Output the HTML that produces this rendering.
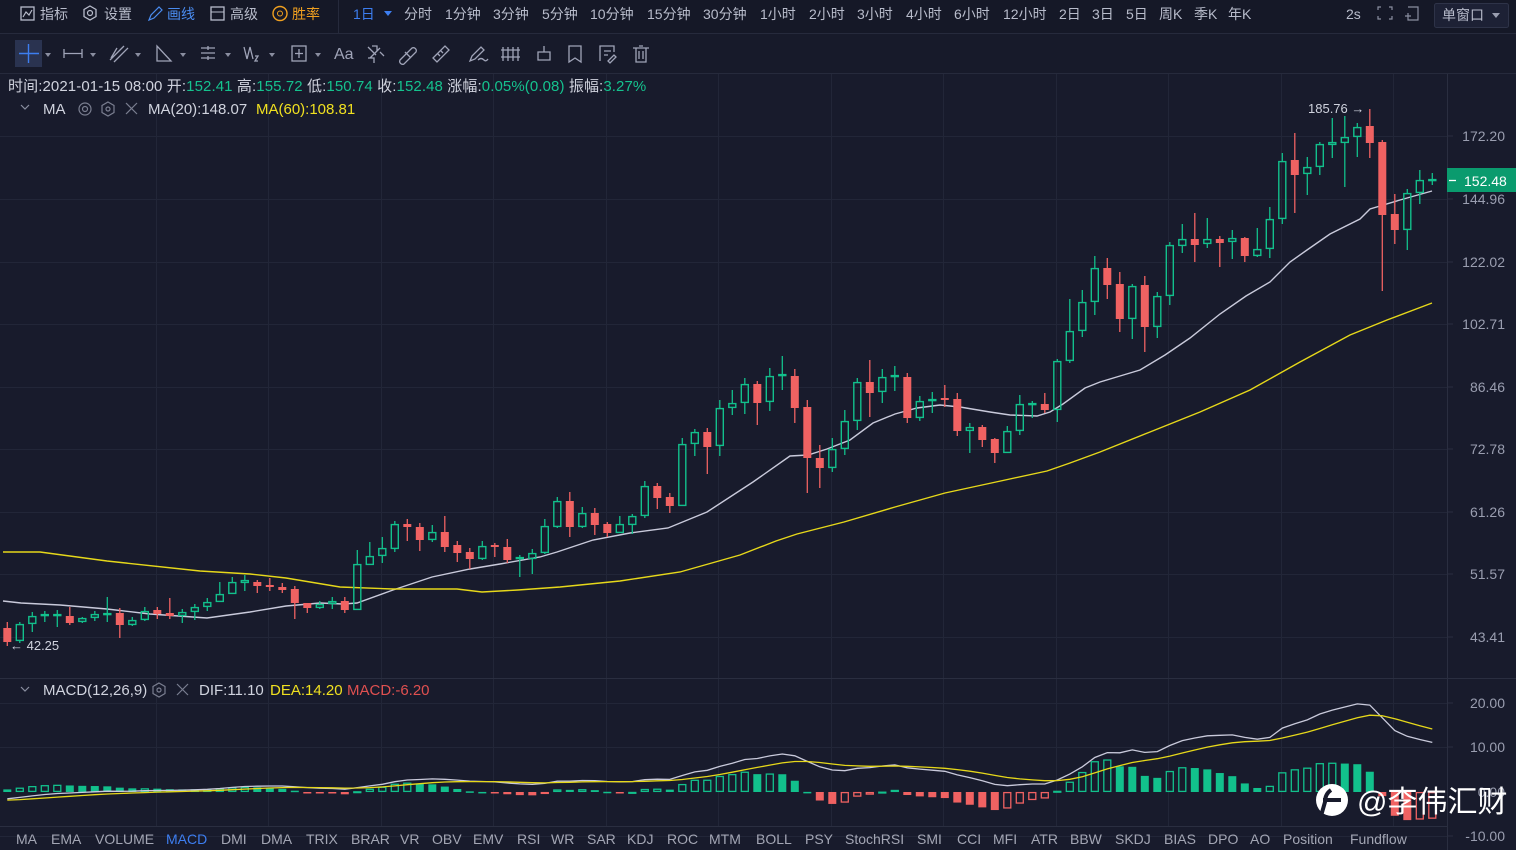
<!DOCTYPE html>
<html><head><meta charset="utf-8"><style>
html,body{margin:0;padding:0;background:#181b2c;width:1516px;height:850px;overflow:hidden}
svg{display:block;font-family:"Liberation Sans","Noto Sans CJK SC",sans-serif}
</style></head><body>
<svg id="s" width="1516" height="850" viewBox="0 0 1516 850" xmlns="http://www.w3.org/2000/svg">
<rect width="1516" height="850" fill="#181b2c"/>
<rect width="1516" height="33" fill="#151827"/>
<rect y="33" width="1516" height="40" fill="#171a2a"/>
<line x1="0" y1="33.5" x2="1516" y2="33.5" stroke="#262a3c"/>
<line x1="0" y1="73.5" x2="1516" y2="73.5" stroke="#262a3c"/>
<line x1="338.5" y1="0" x2="338.5" y2="33" stroke="#262a3c"/>
<g id="grid" stroke="#222638" stroke-width="1"></g>
<line x1="1447.5" y1="74" x2="1447.5" y2="850" stroke="#2a2e40"/>
<line x1="0" y1="678.5" x2="1516" y2="678.5" stroke="#2a2e40"/>
<line x1="0" y1="826.5" x2="1447" y2="826.5" stroke="#2a2e40"/>
<g id="ma"></g>
<g id="candles"></g>
<g id="macd"></g>
<!-- top bar -->
<g font-size="14" fill="#b8bccb">
<rect x="21" y="7" width="13" height="13" fill="none" stroke="#b8bccb" stroke-width="1.3"/><polyline points="23,17 26,12 29,15 32,10" fill="none" stroke="#b8bccb" stroke-width="1.2"/>
<text x="40" y="19">指标</text>
<polygon points="90,6 96,9.5 96,16.5 90,20 84,16.5 84,9.5" fill="none" stroke="#b8bccb" stroke-width="1.3"/><circle cx="90" cy="13" r="2.5" fill="none" stroke="#b8bccb" stroke-width="1.2"/>
<text x="104" y="19">设置</text>
<path d="M149 20 L151 15 L159 7 L162 10 L154 18 Z" fill="none" stroke="#4a8cf0" stroke-width="1.2"/>
<text x="167" y="19" fill="#4a8cf0">画线</text>
<rect x="211" y="7" width="13" height="13" fill="none" stroke="#b8bccb" stroke-width="1.3"/><line x1="211" y1="12" x2="224" y2="12" stroke="#b8bccb"/>
<text x="230" y="19">高级</text>
<circle cx="280" cy="13.5" r="7" fill="none" stroke="#f0a020" stroke-width="1.4"/><circle cx="280" cy="13.5" r="2.5" fill="none" stroke="#f0a020"/>
<text x="292" y="19" fill="#f0a020">胜率</text>
<text x="353" y="19" fill="#3d7ef0">1日</text><polygon points="384,11 392,11 388,16" fill="#3d7ef0"/>
<text x="404" y="19">分时</text><text x="445" y="19">1分钟</text><text x="493" y="19">3分钟</text><text x="542" y="19">5分钟</text>
<text x="590" y="19">10分钟</text><text x="647" y="19">15分钟</text><text x="703" y="19">30分钟</text>
<text x="760" y="19">1小时</text><text x="809" y="19">2小时</text><text x="857" y="19">3小时</text><text x="906" y="19">4小时</text>
<text x="954" y="19">6小时</text><text x="1003" y="19">12小时</text><text x="1059" y="19">2日</text><text x="1092" y="19">3日</text>
<text x="1126" y="19">5日</text><text x="1159" y="19">周K</text><text x="1194" y="19">季K</text><text x="1228" y="19">年K</text>
<text x="1346" y="19">2s</text>
<g stroke="#8a8ea0" stroke-width="1.2" fill="none"><path d="M1378 10 v-3 h3 M1389 7 h3 v3 M1378 16 v3 h3 M1389 19 h3 v-3"/><path d="M1408 7 h10 v13 h-10 v-3 M1405 16 h6 M1408 13 v6"/></g>
<rect x="1434.5" y="3.5" width="74" height="24" rx="2" fill="#1d2135" stroke="#2e3348"/>
<text x="1442" y="20">单窗口</text><polygon points="1492,13 1500,13 1496,18" fill="#9a9eb0"/>
</g>
<!-- toolbar -->
<rect x="15" y="40" width="27" height="27" fill="#2a3350"/>
<g stroke="#3d7ef0" stroke-width="1.4"><line x1="19" y1="53.5" x2="39" y2="53.5"/><line x1="28.5" y1="44" x2="28.5" y2="63"/></g>
<g fill="#8a8ea0"><polygon points="45,53 51,53 48,57"/><polygon points="90,53 96,53 93,57"/><polygon points="135,53 141,53 138,57"/><polygon points="180,53 186,53 183,57"/><polygon points="225,53 231,53 228,57"/><polygon points="269,53 275,53 272,57"/><polygon points="315,53 321,53 318,57"/></g>
<g stroke="#a0a4b8" stroke-width="1.3" fill="none">
<path d="M64 53.5 h18 M64 49 v9 M82 49 v9"/>
<path d="M110 60 l14 -14 M114 62 l14 -14 M117 48 l-6 10"/>
<path d="M157 46 v15 h14 Z"/>
<path d="M201 48 h14 M201 53 h14 M201 58 h14 M208 46 v4 M208 56 v4"/>
<path d="M244 47 l3 12 l3 -12 l3 12 M255 56 h3 l-3 5 h3"/>
<rect x="292" y="46" width="14" height="15"/><path d="M299 49 v9 M295 53.5 h8"/>
<path d="M368 47 l8 8 M370 58 l10 -10 M372 46 h5 v5 M368 58 h6 v5 M380 52 l4 4"/>
<path d="M400 60 l12 -12 a3 3 0 0 1 4 4 l-12 12 a3 3 0 0 1 -4 -4 Z M405 52 l6 6"/>
<path d="M433 58 l12 -12 l4 4 l-12 12 Z M438 54 l2 2 M441 51 l2 2"/>
<path d="M470 61 l2 -5 l9 -9 l3 3 l-9 9 Z M478 60 q3 -3 6 0 q2 2 4 -1"/>
<path d="M503 47 v14 M508 47 v14 M513 47 v14 M518 47 v14 M501 50 h19 M501 57 h19"/>
<path d="M538 60 h12 v-8 h-12 Z M544 52 v-6"/>
<path d="M569 46 h12 v16 l-6 -4 l-6 4 Z"/>
<path d="M600 61 v-15 h14 v6 M604 51 h7 M604 55 h4 M608 61 l6 -6 l2 2 l-6 6 Z"/>
<path d="M633 48 h16 M636 48 v14 h10 v-14 M639 46 h4 M639 51 v8 M643 51 v8"/>
</g>
<text x="334" y="59" font-size="16" fill="#a0a4b8">Aa</text>
<!-- info lines -->
<text x="8" y="91" font-size="15" letter-spacing="0.1" fill="#d0d3de">时间:2021-01-15 08:00 开:<tspan fill="#15c28e">152.41</tspan> 高:<tspan fill="#15c28e">155.72</tspan> 低:<tspan fill="#15c28e">150.74</tspan> 收:<tspan fill="#15c28e">152.48</tspan> 涨幅:<tspan fill="#15c28e">0.05%(0.08)</tspan> 振幅:<tspan fill="#15c28e">3.27%</tspan></text>
<path d="M21 105 l4 4 l4 -4" stroke="#8a8ea0" fill="none" stroke-width="1.2"/>
<text x="43" y="114" font-size="15" fill="#d0d3de">MA</text>
<g stroke="#7a7e90" fill="none" stroke-width="1.2"><circle cx="85" cy="109" r="6"/><circle cx="85" cy="109" r="2.5"/><polygon points="108,102 114,105.5 114,112.5 108,116 102,112.5 102,105.5"/><circle cx="108" cy="109" r="2"/><path d="M126 103 l11 11 M137 103 l-11 11"/></g>
<text x="148" y="114" font-size="15" fill="#d0d3de">MA(20):148.07</text>
<text x="256" y="114" font-size="15" fill="#f0e020">MA(60):108.81</text>
<!-- macd header -->
<path d="M21 687 l4 4 l4 -4" stroke="#8a8ea0" fill="none" stroke-width="1.2"/>
<text x="43" y="695" font-size="15" fill="#d0d3de">MACD(12,26,9)</text>
<g stroke="#7a7e90" fill="none" stroke-width="1.2"><polygon points="159,683 165,686.5 165,693.5 159,697 153,693.5 153,686.5"/><circle cx="159" cy="690" r="2"/><path d="M177 684 l11 11 M188 684 l-11 11"/></g>
<text x="199" y="695" font-size="15" fill="#d0d3de">DIF:11.10</text>
<text x="270" y="695" font-size="15" fill="#f0e020">DEA:14.20</text>
<text x="347" y="695" font-size="15" fill="#e05050">MACD:-6.20</text>
<!-- axis labels -->
<g font-size="14" fill="#9a9eb0" text-anchor="end">
<text x="1505" y="141">172.20</text><text x="1505" y="204">144.96</text><text x="1505" y="267">122.02</text>
<text x="1505" y="329">102.71</text><text x="1505" y="392">86.46</text><text x="1505" y="454">72.78</text>
<text x="1505" y="517">61.26</text><text x="1505" y="579">51.57</text><text x="1505" y="642">43.41</text>
<text x="1505" y="708">20.00</text><text x="1505" y="752">10.00</text><text x="1505" y="797">0.00</text><text x="1505" y="841">-10.00</text>
</g>
<g stroke="#2a2e40"><line x1="1447" y1="136" x2="1453" y2="136"/><line x1="1447" y1="199" x2="1453" y2="199"/><line x1="1447" y1="262" x2="1453" y2="262"/><line x1="1447" y1="324" x2="1453" y2="324"/><line x1="1447" y1="387" x2="1453" y2="387"/><line x1="1447" y1="449" x2="1453" y2="449"/><line x1="1447" y1="512" x2="1453" y2="512"/><line x1="1447" y1="574" x2="1453" y2="574"/><line x1="1447" y1="637" x2="1453" y2="637"/><line x1="1447" y1="703" x2="1453" y2="703"/><line x1="1447" y1="747" x2="1453" y2="747"/><line x1="1447" y1="836" x2="1453" y2="836"/></g>
<rect x="1447" y="168" width="69" height="24" fill="#0a9b6e"/>
<line x1="1449" y1="180.5" x2="1456" y2="180.5" stroke="#fff" stroke-width="1.3"/>
<text x="1464" y="186" font-size="14" fill="#fff">152.48</text>
<text x="1308" y="113" font-size="13" fill="#d0d3de">185.76 →</text>
<text x="10" y="650" font-size="13" fill="#d0d3de">← 42.25</text>
<!-- watermark -->
<g>
<circle cx="1332" cy="800" r="16" fill="#fff"/>
<path d="M1323 800 h18 M1331 790 q-6 4 -6 12 l-4 14" stroke="#181b2c" stroke-width="4" fill="none"/>
<text x="1357" y="812" font-size="30" fill="#fff">@李伟汇财</text>
</g>
<!-- tabs -->
<g font-size="14" fill="#a3a6b4" id="tabs"></g>
</svg>
<script>
var NS="http://www.w3.org/2000/svg";
function el(p,t,a){var e=document.createElementNS(NS,t);for(var k in a)e.setAttribute(k,a[k]);p.appendChild(e);return e;}
var g=document.getElementById('grid');
[156,268,381,493,606,718,831,943,1056,1168,1281,1393].forEach(function(x){el(g,'line',{x1:x+.5,y1:74,x2:x+.5,y2:826});});
[136,199,262,324,387,449,512,574,637,703,747,836].forEach(function(y){el(g,'line',{x1:0,y1:y+.5,x2:1447,y2:y+.5});});
var D=[
[628,642,622,646,0],[624,641,622,643,1],[616,624,612,632,1],[614,616,611,622,1],[614,616,610,627,1],[616,623,607,625,0],[618,622,617,623,1],[614,618,611,621,1],[613,615,597,622,1],[613,625,608,638,0],
[620,625,617,626,1],[611,620,607,621,1],[610,614,607,619,0],[613,616,598,619,0],[612,616,609,623,1],[607,612,604,620,1],[602,607,598,611,1],[594,602,582,602,1],[582,594,577,594,1],[581,582,575,591,1],
[582,586,580,593,0],[585,587,578,591,0],[587,590,583,593,0],[589,603,586,619,0],[603,608,603,613,0],[604,608,601,609,1],[601,604,597,609,1],[601,610,597,613,0],[564,610,550,610,1],[556,565,542,565,1],
[548,556,537,563,1],[524,549,521,552,1],[524,527,519,541,0],[527,540,523,551,0],[532,540,525,542,1],[532,547,516,552,0],[545,553,541,562,0],[552,559,548,569,0],[546,559,541,560,1],[545,547,543,557,0],
[547,560,539,563,0],[557,559,555,577,1],[553,559,549,574,1],[526,553,519,554,1],[501,527,497,528,1],[501,527,492,537,0],[513,527,507,528,1],[513,525,508,535,0],[524,533,522,537,0],[524,533,516,533,1],
[516,525,514,534,1],[486,516,481,518,1],[486,498,483,509,0],[497,506,493,513,0],[444,506,438,506,1],[432,444,429,456,1],[432,447,428,474,0],[408,446,400,456,1],[403,408,390,415,1],[384,403,378,414,1],
[384,403,381,425,0],[376,402,368,411,1],[374,376,356,390,1],[376,408,369,423,0],[407,458,400,493,0],[458,468,445,488,0],[449,468,438,472,1],[421,449,410,455,1],[382,421,378,430,1],[382,393,360,417,0],
[377,392,369,403,1],[375,377,366,391,1],[377,418,373,423,0],[401,418,396,421,1],[399,401,392,413,1],[398,400,385,407,0],[399,431,393,436,0],[427,431,423,453,1],[427,440,425,447,0],[439,453,438,463,0],
[431,453,426,453,1],[404,431,395,435,1],[403,405,401,418,1],[404,410,393,413,0],[361,410,359,422,1],[331,361,299,363,1],[302,331,290,337,1],[268,302,256,315,1],[268,285,258,299,0],[284,319,272,332,0],
[286,319,284,339,1],[285,327,276,352,0],[296,327,292,338,1],[245,296,242,305,1],[239,246,224,253,1],[239,245,213,262,0],[239,244,218,248,1],[239,243,236,267,0],[238,242,230,259,1],[238,256,237,262,0],
[249,256,228,257,1],[219,249,207,258,1],[161,219,153,224,1],[160,175,133,213,0],[167,174,157,195,1],[144,167,142,175,1],[143,144,118,158,1],[137,143,116,187,1],[127,137,123,157,1],[126,143,109,158,0],
[142,215,140,291,0],[214,230,194,244,0],[193,230,189,250,1],[180,193,170,204,1],[179,181,173,185,1]];
var GR="#12c08c",RD="#f06262";
var cg=document.getElementById('candles');
function X(i){return 7.3+12.5*i;}
D.forEach(function(d,i){
 var x=X(i),c=d[4]?GR:RD;
 var t=d[0],b=d[1];
 if(b-t<2){t-=1;b+=1;}
 el(cg,'line',{x1:x,y1:d[2],x2:x,y2:t,stroke:c,'stroke-width':1.3});
 el(cg,'line',{x1:x,y1:b,x2:x,y2:d[3],stroke:c,'stroke-width':1.3});
 if(d[4]) el(cg,'rect',{x:x-3.5,y:t+.6,width:7,height:Math.max(b-t-1.2,1),fill:'none',stroke:c,'stroke-width':1.4});
 else el(cg,'rect',{x:x-4,y:t,width:8,height:b-t,fill:c});
});
var mg=document.getElementById('ma');
el(mg,'polyline',{points:"3,601 21,603 60,605 107,609 150,614 207,618 250,612 286,606 320,603 343,604 357,603 393,590 432,577 470,569 500,564 540,557 557,552 593,540 630,533 668,528 707,512 730,497 753,482 790,456 808,455 827,449 850,440 873,423 895,414 917,408 940,405 960,407 990,412 1010,415 1037,416 1050,412 1063,404 1085,388 1100,382 1120,376 1140,370 1165,355 1190,338 1220,314 1246,296 1270,282 1290,262 1307,250 1330,234 1360,219 1370,209 1400,200 1432,191",fill:'none',stroke:'#c9cadb','stroke-width':1.4});
el(mg,'polyline',{points:"3,552 40,552 107,561 200,571 250,574 286,578 340,587 393,589 457,589 482,592 518,590 560,587 620,581 680,572 740,555 776,541 797,534 844,522 895,507 945,493 996,482 1047,471 1070,463 1100,452 1150,432 1200,412 1250,390 1300,362 1350,335 1387,320 1432,303",fill:'none',stroke:'#e6d81a','stroke-width':1.4});
var P=D.map(function(d){var cy=d[4]?d[0]:d[1];return 172.2*Math.exp((136-cy)/363.6);});
var e12=P[0]-0.5,e26=P[0]+1.2,dea=-1.9,DIF=[],DEA=[],H=[];
P.forEach(function(p){e12=e12+(p-e12)*2/13;e26=e26+(p-e26)*2/27;var dif=e12-e26;dea=dea+(dif-dea)*2/10;DIF.push(dif);DEA.push(dea);H.push(2*(dif-dea));});
var ag=document.getElementById('macd');
function Y(v){return 792-v*4.45;}
var hp=null;
H.forEach(function(h,i){
 var x=X(i),c=h>=0?GR:RD,y=Y(h),top=Math.min(y,792),ht=Math.max(Math.abs(y-792),1.5);
 var hollow = hp!==null && h>hp;
 if(hollow) el(ag,'rect',{x:x-3.5,y:top+.6,width:7,height:Math.max(ht-1.2,.8),fill:'none',stroke:c,'stroke-width':1.3});
 else el(ag,'rect',{x:x-4,y:top,width:8,height:ht,fill:c});
 hp=h;
});
el(ag,'polyline',{points:DIF.map(function(v,i){return X(i)+','+Y(v).toFixed(1);}).join(' '),fill:'none',stroke:'#c9cadb','stroke-width':1.3});
el(ag,'polyline',{points:DEA.map(function(v,i){return X(i)+','+Y(v).toFixed(1);}).join(' '),fill:'none',stroke:'#e6d81a','stroke-width':1.3});
var tabs=[["MA",16],["EMA",51],["VOLUME",95],["MACD",166],["DMI",221],["DMA",261],["TRIX",306],["BRAR",351],["VR",400],["OBV",432],["EMV",473],["RSI",517],["WR",551],["SAR",587],["KDJ",627],["ROC",667],["MTM",709],["BOLL",756],["PSY",805],["StochRSI",845],["SMI",917],["CCI",957],["MFI",993],["ATR",1031],["BBW",1070],["SKDJ",1115],["BIAS",1164],["DPO",1208],["AO",1250],["Position",1283],["Fundflow",1350]];
var tg=document.getElementById('tabs');
tabs.forEach(function(t){var e=el(tg,'text',{x:t[1],y:844});if(t[0]=="MACD")e.setAttribute('fill','#3d7ef0');e.textContent=t[0];});
</script>
</body></html>
